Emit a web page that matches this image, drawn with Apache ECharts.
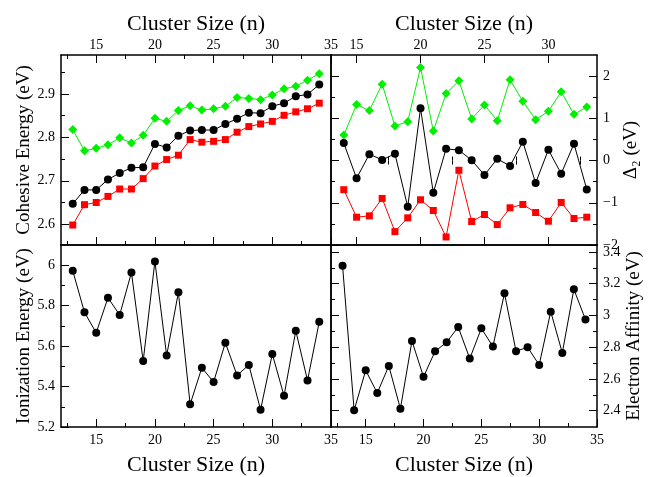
<!DOCTYPE html>
<html>
<head>
<meta charset="utf-8">
<script src="https://cdn.jsdelivr.net/npm/echarts@6/dist/echarts.min.js"></script>
<style>
  html, body { margin: 0; padding: 0; background: #fff; }
  #chart { width: 650px; height: 477px; }
</style>
</head>
<body>
<div id="chart"></div>
<script>
// cluster sizes n
const clusterSizes = [13, 14, 15, 16, 17, 18, 19, 20, 21, 22, 23, 24, 25, 26, 27, 28, 29, 30, 31, 32, 33, 34]
const deltaSizes = [14, 15, 16, 17, 18, 19, 20, 21, 22, 23, 24, 25, 26, 27, 28, 29, 30, 31, 32, 33]

// cohesive energy (eV)
const cohesiveBlack = [2.647, 2.679, 2.679, 2.703, 2.718, 2.730, 2.731, 2.785, 2.777, 2.804, 2.816, 2.817, 2.817, 2.831, 2.843, 2.857, 2.856, 2.872, 2.879, 2.895, 2.899, 2.922]
const cohesiveRed = [2.598, 2.645, 2.650, 2.664, 2.681, 2.681, 2.705, 2.734, 2.749, 2.759, 2.795, 2.789, 2.791, 2.795, 2.812, 2.825, 2.831, 2.837, 2.851, 2.859, 2.866, 2.879]
const cohesiveGreen = [2.818, 2.769, 2.775, 2.783, 2.799, 2.787, 2.805, 2.844, 2.837, 2.862, 2.873, 2.863, 2.866, 2.872, 2.892, 2.890, 2.887, 2.898, 2.912, 2.918, 2.932, 2.947]

// second difference (eV)
const deltaGreen = [0.603, 1.325, 1.183, 1.810, 0.817, 0.921, 2.206, 0.698, 1.587, 1.889, 0.984, 1.317, 0.944, 1.913, 1.405, 0.968, 1.167, 1.627, 1.095, 1.270]
const deltaBlack = [0.413, -0.421, 0.151, 0.016, 0.159, -1.095, 1.238, -0.762, 0.278, 0.246, 0.008, -0.341, 0.040, -0.127, 0.444, -0.532, 0.254, -0.310, 0.397, -0.683]
const deltaRed = [-0.690, -1.341, -1.310, -0.897, -1.683, -1.357, -0.929, -1.183, -1.810, -0.230, -1.444, -1.278, -1.516, -1.119, -1.040, -1.230, -1.437, -0.992, -1.373, -1.341]

// ionization energy / electron affinity (eV)
const ionization = [5.973, 5.767, 5.666, 5.839, 5.754, 5.964, 5.526, 6.019, 5.553, 5.866, 5.312, 5.493, 5.422, 5.617, 5.455, 5.507, 5.285, 5.561, 5.354, 5.676, 5.430, 5.720]
const affinity = [3.313, 2.402, 2.654, 2.511, 2.682, 2.412, 2.839, 2.613, 2.774, 2.831, 2.927, 2.728, 2.919, 2.804, 3.140, 2.774, 2.800, 2.688, 3.024, 2.764, 3.165, 2.975]

// tick values
const sizeTicks = [15, 20, 25, 30, 35]
const sizeMinorTicks = [12.5, 17.5, 22.5, 27.5, 32.5]
const cohesiveTicks = [2.6, 2.7, 2.8, 2.9]
const cohesiveMinorTicks = [2.65, 2.75, 2.85, 2.95]
const deltaTicks = [-2, -1, 0, 1, 2]
const deltaMinorTicks = [-1.5, -0.5, 0.5, 1.5]
const ionTicks = [5.2, 5.4, 5.6, 5.8, 6]
const ionMinorTicks = [5.3, 5.5, 5.7, 5.9]
const affinityTicks = [2.4, 2.6, 2.8, 3, 3.2, 3.4]
const affinityMinorTicks = [2.5, 2.7, 2.9, 3.1, 3.3]

const FONT = 'Liberation Serif'
const chart = echarts.init(document.getElementById('chart'))

const inRange = (arr, min, max) => arr.filter(v => v >= min - 1e-9 && v <= max + 1e-9)

// one side of a panel: a main axis (labels + long ticks) and a second one for short ticks
function sideAxes (grid, pos, min, max, major, minor, opts) {
  const o = opts || {}
  const base = {
    type: 'value', gridIndex: grid, position: pos, min: min, max: max,
    axisLine: { show: true, onZero: false, lineStyle: { color: '#000', width: 1.5 } },
    splitLine: { show: false }
  }
  const main = Object.assign({}, base, {
    axisTick: { show: o.ticks !== false, inside: true, length: 8, customValues: inRange(major, min, max), lineStyle: { color: '#000', width: 1 } },
    axisLabel: {
      show: !!o.labels, customValues: inRange(major, min, max), margin: o.margin || 5,
      fontFamily: FONT, fontSize: 14, color: '#000',
      formatter: v => String(v).replace('-', '\u2212')
    }
  })
  if (o.name) {
    Object.assign(main, {
      name: o.name, nameLocation: 'middle', nameGap: o.nameGap,
      nameTextStyle: { fontFamily: FONT, fontSize: o.nameSize || 19, color: '#000' }
    })
    if (pos === 'left' || pos === 'right') main.nameRotate = 90
  }
  const sub = Object.assign({}, base, {
    axisLine: { show: false },
    axisTick: { show: o.ticks !== false, inside: true, length: 4, customValues: inRange(minor, min, max), lineStyle: { color: '#000', width: 1 } },
    axisLabel: { show: false }
  })
  return [main, sub]
}

const grid = [
  { left: 61, top: 55, width: 270, height: 190 },
  { left: 331, top: 55, width: 266, height: 190 },
  { left: 61, top: 245, width: 270, height: 191 },
  { left: 331, top: 245, width: 266, height: 191 }
]

const xAxis = [].concat(
  // panel 0 : top-left
  sideAxes(0, 'bottom', 12, 35, sizeTicks, sizeMinorTicks, {}),
  sideAxes(0, 'top', 12, 35, sizeTicks, sizeMinorTicks, { labels: true, margin: 3, name: 'Cluster Size (n)', nameGap: 20, nameSize: 22 }),
  // panel 1 : top-right
  sideAxes(1, 'bottom', 13, 33.8, sizeTicks, sizeMinorTicks, {}),
  sideAxes(1, 'top', 13, 33.8, sizeTicks, sizeMinorTicks, { labels: true, margin: 3, name: 'Cluster Size (n)', nameGap: 20, nameSize: 22 }),
  // panel 2 : bottom-left
  sideAxes(2, 'bottom', 12, 35, sizeTicks, sizeMinorTicks, { labels: true, margin: 6, name: 'Cluster Size (n)', nameGap: 27, nameSize: 22 }),
  sideAxes(2, 'top', 12, 35, sizeTicks, sizeMinorTicks, { ticks: false }),
  // panel 3 : bottom-right
  sideAxes(3, 'bottom', 12, 35, sizeTicks, sizeMinorTicks, { labels: true, margin: 6, name: 'Cluster Size (n)', nameGap: 27, nameSize: 22 }),
  sideAxes(3, 'top', 12, 35, sizeTicks, sizeMinorTicks, { ticks: false })
)

const yAxis = [].concat(
  sideAxes(0, 'left', 2.552, 2.99, cohesiveTicks, cohesiveMinorTicks, { labels: true, margin: 6, name: 'Cohesive Energy (eV)', nameGap: 20 }),
  sideAxes(0, 'right', 2.552, 2.99, cohesiveTicks, cohesiveMinorTicks, { ticks: false }),
  sideAxes(1, 'left', -2, 2.5, deltaTicks, deltaMinorTicks, {}),
  sideAxes(1, 'right', -2, 2.5, deltaTicks, deltaMinorTicks, { labels: true, margin: 6, name: 'Δ₂ (eV)', nameGap: 25 }),
  sideAxes(2, 'left', 5.2, 6.1, ionTicks, ionMinorTicks, { labels: true, margin: 6, name: 'Ionization Energy (eV)', nameGap: 20 }),
  sideAxes(2, 'right', 5.2, 6.1, ionTicks, ionMinorTicks, { ticks: false }),
  sideAxes(3, 'left', 2.297, 3.444, affinityTicks, affinityMinorTicks, {}),
  sideAxes(3, 'right', 2.297, 3.444, affinityTicks, affinityMinorTicks, { labels: true, margin: 6, name: 'Electron Affinity (eV)', nameGap: 25 })
)

// main axes are at even indices: panel p, bottom = 4p, left = 4p
function line (xs, ys, panel, color, symbol, size) {
  return {
    type: 'line',
    xAxisIndex: panel * 4,
    yAxisIndex: panel * 4,
    data: xs.map((n, i) => [n, ys[i]]),
    symbol: symbol,
    symbolSize: size,
    showAllSymbol: true,
    lineStyle: { color: color, width: 1 },
    itemStyle: { color: color },
    animation: false
  }
}

chart.setOption({
  backgroundColor: '#fff',
  animation: false,
  grid: grid,
  xAxis: xAxis,
  yAxis: yAxis,
  series: [
    line(clusterSizes, cohesiveGreen, 0, '#00f000', 'diamond', 9),
    line(clusterSizes, cohesiveBlack, 0, '#000', 'circle', 8),
    line(clusterSizes, cohesiveRed, 0, '#ff0000', 'rect', 7),
    line(deltaSizes, deltaGreen, 1, '#00f000', 'diamond', 9),
    line(deltaSizes, deltaBlack, 1, '#000', 'circle', 8),
    line(deltaSizes, deltaRed, 1, '#ff0000', 'rect', 7),
    line(clusterSizes, ionization, 2, '#000', 'circle', 8),
    line(clusterSizes, affinity, 3, '#000', 'circle', 8)
  ]
})
</script>
</body>
</html>
